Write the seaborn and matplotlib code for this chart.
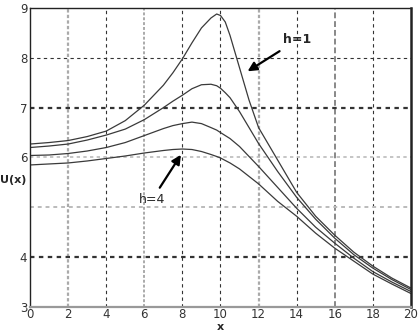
import pandas as pd
import matplotlib
matplotlib.use("Agg")
import matplotlib.pyplot as plt
import seaborn as sns

# values
x = [0, 1, 2, 3, 4, 5, 6, 7, 7.5, 8, 8.5, 9, 9.5, 9.8, 10, 10.25, 10.5, 11, 11.5, 12, 13, 14, 15, 16, 17, 18, 19, 20]
u_h1 = [6.27, 6.30, 6.34, 6.42, 6.53, 6.74, 7.05, 7.45, 7.7, 7.98, 8.3, 8.6, 8.8, 8.88, 8.85, 8.72, 8.45, 7.8, 7.15, 6.6, 5.95, 5.3, 4.82, 4.44, 4.1, 3.82, 3.58, 3.38]
u_h2 = [6.20, 6.23, 6.27, 6.35, 6.45, 6.57, 6.76, 7.0, 7.13, 7.25, 7.38, 7.46, 7.47, 7.44, 7.39, 7.3, 7.2, 6.92, 6.6, 6.28, 5.72, 5.2, 4.76, 4.38, 4.05, 3.78, 3.55, 3.35]
u_h3 = [6.04, 6.05, 6.08, 6.13, 6.2, 6.3, 6.44, 6.58, 6.64, 6.68, 6.71, 6.68, 6.6, 6.55, 6.5, 6.44, 6.38, 6.22, 6.02, 5.82, 5.4, 4.98, 4.6, 4.28, 3.98, 3.71, 3.5, 3.31]
u_h4 = [5.85, 5.87, 5.89, 5.93, 5.98, 6.03, 6.09, 6.14, 6.16, 6.17, 6.16, 6.12, 6.06, 6.02, 5.99, 5.94, 5.89, 5.77, 5.62, 5.47, 5.12, 4.82, 4.48, 4.18, 3.92, 3.66, 3.46, 3.27]

x_ticks = [0, 2, 4, 6, 8, 10, 12, 14, 16, 18, 20]
y_ticks = [3, 4, 5, 6, 7, 8, 9]
y_tick_labels = ["3", "4", "", "6", "7", "8", "9"]

df = pd.concat([
    pd.DataFrame({"x": x, "U": u, "h": name})
    for name, u in [("h=1", u_h1), ("h=2", u_h2), ("h=3", u_h3), ("h=4", u_h4)]
])

sns.set_style("white")
fig = plt.figure(figsize=(4.18, 3.34), dpi=100)
ax = fig.add_axes([0.072, 0.081, 0.911, 0.895])

# grid lines (mixed looks like in the scanned original)
vstyle = {2: ("#aaaaaa", (0, (1.5, 1)), 1.6), 6: ("#aaaaaa", (0, (1.5, 1)), 1.4),
          12: ("#aaaaaa", (0, (1.5, 1)), 1.6), 16: ("#888888", (0, (3, 1.5)), 1.4)}
for xv in x_ticks[1:-1]:
    c, ls, lw = vstyle.get(xv, ("#333333", (0, (3, 3)), 0.8))
    ax.axvline(xv, color=c, linestyle=ls, linewidth=lw, zorder=0)
hstyle = {8: ("#333333", (0, (3, 3)), 0.8), 7: ("#333333", (0, (2, 2)), 1.6),
          6: ("#bbbbbb", (0, (2, 2)), 1.2), 5: ("#bbbbbb", (0, (2, 2)), 1.4),
          4: ("#333333", (0, (2, 2)), 1.6)}
for yv in y_ticks[1:-1]:
    c, ls, lw = hstyle[yv]
    ax.axhline(yv, color=c, linestyle=ls, linewidth=lw, zorder=0)

sns.lineplot(data=df, x="x", y="U", hue="h", units="h", estimator=None,
             palette=["#3a3a3a"] * 4, linewidth=0.9, legend=False, ax=ax, sort=False)

ax.set_xlim(0, 20)
ax.set_ylim(3, 9)
ax.set_xticks(x_ticks)
ax.set_yticks(y_ticks)
ax.set_yticklabels(y_tick_labels)
ax.tick_params(direction="in", length=3, labelsize=8.5, labelcolor="#333333", pad=2)
ax.tick_params(axis="x", pad=1)
for s in ax.spines.values():
    s.set_color("#222222")
    s.set_linewidth(1.0)
ax.spines["right"].set_linewidth(1.8)
ax.spines["bottom"].set_color("#999999")
ax.spines["bottom"].set_linewidth(1.6)

ax.set_xlabel("x", fontsize=8, fontweight="bold", va="top")
ax.xaxis.set_label_coords(0.5, -0.05)
ax.set_ylabel("U(x)", fontsize=8, fontweight="bold", rotation=0, va="center", ha="center")
ax.yaxis.set_label_coords(-0.045, 0.425)

arrow = dict(arrowstyle="-|>,head_length=0.6,head_width=0.3", color="black", lw=1.6)
ax.annotate("h=1", xy=(11.3, 7.7), xytext=(13.3, 8.36), fontsize=9, fontweight="bold",
            va="center", ha="left", arrowprops=arrow)
ax.annotate("h=4", xy=(8.0, 6.1), xytext=(6.4, 5.15), fontsize=9,
            va="center", ha="center", arrowprops=arrow)

fig.savefig("out.png", dpi=100)
